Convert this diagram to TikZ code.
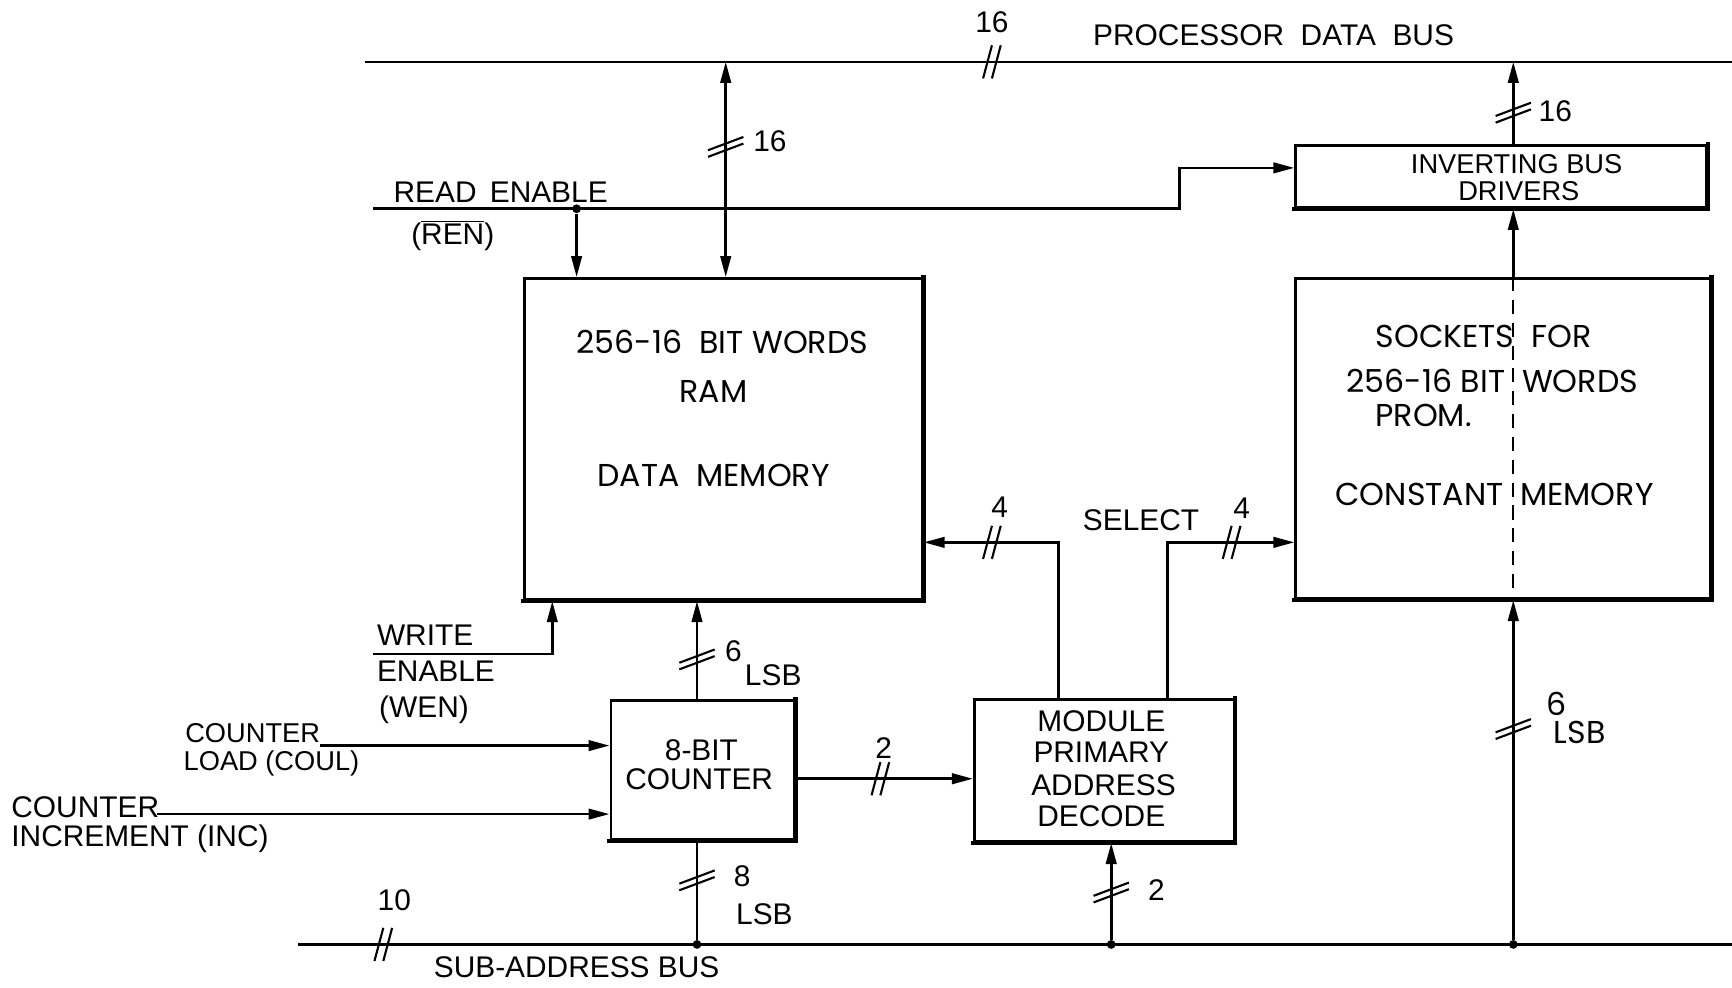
\documentclass[tikz,border=0pt]{standalone}
\usepackage{fontspec}
\setmainfont{Liberation Sans}
\newfontfamily\wideface{Poppins}
\usetikzlibrary{arrows.meta,fit}
\begin{document}
\begin{tikzpicture}[x=0.022092cm,y=-0.022092cm,
  wire/.style={line width=1.5pt},
  arr/.style={wire,-{Triangle[length=4.2mm,width=2.1mm]}},
  darr/.style={wire,{Triangle[length=4.2mm,width=2.1mm]}-{Triangle[length=4.2mm,width=2.1mm]}},
  box/.style={draw,line width=1.5pt,inner sep=0pt},
  heavy/.style={line width=2.6pt,line cap=rect},
  lbl/.style={inner sep=0pt,font=\fontsize{17}{19}\selectfont},
  slbl/.style={inner sep=0pt,font=\fontsize{15.5}{17}\selectfont},
  wlbl/.style={inner sep=0pt,font=\wideface\fontsize{18}{20}\selectfont},
  dot/.style={circle,fill,inner sep=0pt,minimum size=5pt},
  hslash/.pic={\draw[line width=1.2pt] (-8,15)--(0,-15) (0,15)--(8,-15);},
  vslash/.pic={\draw[line width=1.2pt] (-16,9)--(16,-3) (-16,3)--(16,-9);}
]
\useasboundingbox (0,0) rectangle (1568,894);

% coordinates
\coordinate (tbL) at (330,56);   \coordinate (tbR) at (1568,56);
\coordinate (sbL) at (270,855);  \coordinate (sbR) at (1568,855);
\coordinate (cRW) at (657,0);    \coordinate (cREN) at (522,0);
\coordinate (cWEN) at (500,0);   \coordinate (cCNT) at (631,0);
\coordinate (cDL) at (958,0);    \coordinate (cDR) at (1057,0);
\coordinate (cDB) at (1006,0);   \coordinate (cPR) at (1370,0);
\coordinate (ySel) at (0,491);   \coordinate (yC2) at (0,705);
\coordinate (yIBD) at (0,152);
\coordinate (renS) at (338,189); \coordinate (renK) at (1068,189);
\coordinate (wenS) at (338,592);
\coordinate (coulS) at (290,675); \coordinate (incS) at (142,737);
\coordinate (ramA) at (475,252);  \coordinate (ramB) at (835,543);
\coordinate (ibdA) at (1173,132); \coordinate (ibdB) at (1545,188);
\coordinate (proA) at (1173,252); \coordinate (proB) at (1548,542);
\coordinate (cntA) at (553,634);  \coordinate (cntB) at (719,760);
\coordinate (decA) at (882,633);  \coordinate (decB) at (1117,762);

% boxes
\node[box,fit=(ramA)(ramB)] (ram) {};
\node[box,fit=(ibdA)(ibdB)] (ibd) {};
\node[box,fit=(proA)(proB)] (prom) {};
\node[box,fit=(cntA)(cntB)] (cnt) {};
\node[box,fit=(decA)(decB)] (dec) {};
\foreach \b in {ram,ibd,prom,cnt,dec}
  \draw[heavy] (\b.north east) -- (\b.south east) -- (\b.south west);

% buses
\draw[wire] (tbL) -- (tbR);
\draw[wire] (sbL) -- (sbR);

% connectors
\draw[darr] (tbL -| cRW) -- (ram.north -| cRW);
\draw[arr] (renS) -- (renK) |- (ibd.west |- yIBD);
\node[dot] (renJ) at (renS -| cREN) {};
\draw[arr] (renJ) -- (ram.north -| cREN);
\draw[arr] (ibd.north -| cPR) -- (tbL -| cPR);
\draw[arr] (prom.north -| cPR) -- (ibd.south -| cPR);
\draw[line width=1pt,dash pattern=on 8pt off 5pt] (prom.north -| cPR) -- (prom.south -| cPR);
\node[dot] (dotP) at (sbL -| cPR) {};
\draw[arr] (dotP) -- (prom.south -| cPR);
\draw[arr] (cnt.north -| cCNT) -- (ram.south -| cCNT);
\node[dot] (dotC) at (sbL -| cCNT) {};
\draw[wire] (dotC) -- (cnt.south -| cCNT);
\draw[arr] (wenS) -| (ram.south -| cWEN);
\draw[arr] (coulS) -- (cnt.west |- coulS);
\draw[arr] (incS) -- (cnt.west |- incS);
\draw[arr] (cnt.east |- yC2) -- (dec.west |- yC2);
\draw[arr] (dec.north -| cDL) |- (ram.east |- ySel);
\draw[arr] (dec.north -| cDR) |- (prom.west |- ySel);
\node[dot] (dotD) at (sbL -| cDB) {};
\draw[arr] (dotD) -- (dec.south -| cDB);

% bus-width slashes
\pic at (898,56) {hslash};
\pic at (347,855) {hslash};
\pic at (797,705) {hslash};
\pic at (898,491) {hslash};
\pic at (1115,491) {hslash};
\pic at (657,133) {vslash};
\pic at (1370,102) {vslash};
\pic at (631,597) {vslash};
\pic at (631,797) {vslash};
\pic at (1006,808) {vslash};
\pic at (1370,660) {vslash};

% labels
\node[lbl] (t16) at (898,20) {16};
\node[lbl] (tpdb) at (1153,32) {PROCESSOR\ \ DATA\ \ BUS};
\node[lbl] (t16b) at (697,128) {16};
\node[lbl] (t16c) at (1408,101) {16};
\node[lbl,anchor=west] (tre) at (356,174) {READ\ \,ENABLE};
\node[lbl,anchor=west] (tren) at (372,213) {($\overline{\mbox{REN}}$)};
\node[slbl] (tibd1) at (1373,149) {INVERTING BUS};
\node[slbl] (tibd2) at (1375,173) {DRIVERS};
\node[wlbl] (tram1) at (654,310) {256-16\ \ BIT WORDS};
\node[wlbl] (tram2) at (646,354) {RAM};
\node[wlbl] (tram3) at (646,430) {DATA\ \ MEMORY};
\node[wlbl] (tp1) at (1343,305) {SOCKETS\ \ FOR};
\node[wlbl] (tp2) at (1351,345) {256-16 BIT\ \ WORDS};
\node[wlbl,anchor=west] (tp3) at (1245,376) {PROM.};
\node[wlbl] (tp4) at (1353,448) {CONSTANT\ \ MEMORY};
\node[lbl] (tsel) at (1033,471) {SELECT};
\node[lbl] (t4a) at (905,459) {4};
\node[lbl] (t4b) at (1124,460) {4};
\node[lbl,anchor=west] (tw1) at (341,575) {WRITE};
\node[lbl,anchor=west] (tw2) at (341,608) {ENABLE};
\node[lbl,anchor=west] (tw3) at (343,643) {(WEN)};
\node[lbl] (t6) at (664,590) {6};
\node[lbl] (tlsb1) at (700,611) {LSB};
\node[slbl,anchor=east] (tcl1) at (290,664) {COUNTER};
\node[slbl,anchor=west] (tcl2) at (166,691) {LOAD (COUL)};
\node[lbl,anchor=west] (tci1) at (10,731) {COUNTER};
\node[lbl,anchor=west] (tci2) at (10,759) {INCREMENT (INC)};
\node[lbl] (tc1) at (635,679) {8-BIT};
\node[lbl] (tc2) at (633,705) {COUNTER};
\node[lbl] (t2a) at (800,677) {2};
\node[lbl] (td1) at (997,653) {MODULE};
\node[lbl] (td2) at (997,681) {PRIMARY};
\node[lbl] (td3) at (999,711) {ADDRESS};
\node[lbl] (td4) at (997,739) {DECODE};
\node[lbl] (t8) at (672,793) {8};
\node[lbl] (tlsb2) at (692,828) {LSB};
\node[lbl] (t2b) at (1047,806) {2};
\node[lbl] (t10) at (357,815) {10};
\node[lbl] (tsab) at (522,876) {SUB-ADDRESS BUS};
\node[wlbl] (t6p) at (1409,637) {6};
\node[wlbl] (tlsbp) at (1430,663) {LSB};
\end{tikzpicture}
\end{document}
